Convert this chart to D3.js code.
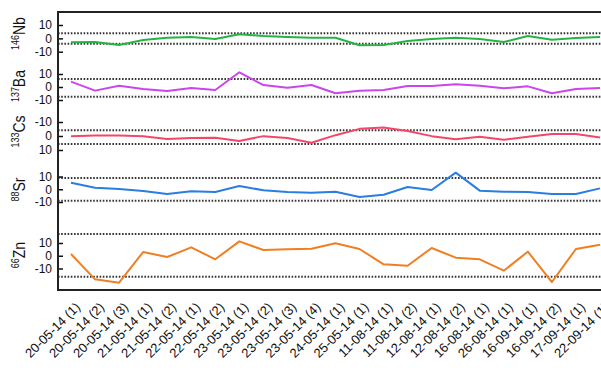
<!DOCTYPE html>
<html>
<head>
<meta charset="utf-8">
<script src="https://cdn.jsdelivr.net/npm/d3@7"></script>
<style>
  html, body { margin: 0; padding: 0; background: #fff; }
  svg { display: block; font-family: "Liberation Sans", Arial, sans-serif; }
</style>
</head>
<body>
<svg id="chart" width="601" height="372"></svg>
<script>
// Sample labels (date + replicate)
const categories = [
  "20-05-14 (1)", "20-05-14 (2)", "20-05-14 (3)", "21-05-14 (1)", "21-05-14 (2)",
  "22-05-14 (1)", "22-05-14 (2)", "23-05-14 (1)", "23-05-14 (2)", "23-05-14 (3)",
  "23-05-14 (4)", "24-05-14 (1)", "25-05-14 (1)", "11-08-14 (1)", "11-08-14 (2)",
  "12-08-14 (1)", "12-08-14 (2)", "16-08-14 (1)", "26-08-14 (1)", "16-09-14 (1)",
  "16-09-14 (2)", "17-09-14 (1)", "22-09-14 (1)"
];

// Isotope deviations per sample
const nb146 = [-3.0, -2.8, -5.0, -1.2, 0.5, 1.0, -0.5, 3.0, 1.8, 1.0, 0.5, 0.5,
               -5.2, -5.0, -2.0, -0.5, 0.5, -0.5, -2.7, 1.8, -1.0, 0.3, 1.0];
const ba137 = [4.1, -2.8, 1.0, -1.5, -3.1, -0.8, -2.3, 11.3, 1.5, -0.5, 1.5, -4.8,
               -2.8, -2.3, 0.8, 0.8, 2.1, 1.0, -1.0, 0.5, -4.8, -1.5, -0.8];
const cs133 = [0.1, -0.3, -0.4, 0.1, 2.2, 1.5, 1.3, 3.6, 0.1, 1.5, 4.8, -0.6,
               -5.1, -6.0, -3.6, 0.1, 2.4, 0.6, 2.7, 0.6, -1.5, -1.5, 1.0];
const sr88  = [5.1, 1.2, 0.2, -1.4, -3.7, -1.6, -2.2, 2.5, -0.8, -2.2, -2.7, -1.9,
               -6.1, -4.3, 1.8, -0.6, 13.0, -1.1, -1.9, -2.2, -3.7, -3.7, 0.7];
const zn66  = [1.4, -18.5, -21.1, 2.9, -1.0, 6.6, -2.8, 11.3, 4.5, 5.1, 5.5, 9.8,
               5.3, -6.7, -7.8, 6.1, -1.5, -2.8, -11.7, 3.2, -20.6, 5.3, 8.7];

// Upper / lower limits drawn as dotted reference lines
const nbLimits = [3.8, -4.0];
const baLimits = [6.2, -7.5];
const csLimits = [-4.1, 5.8];
const srLimits = [8.9, -9.1];
const znLimits = [17.1, -16.4];

// Y tick values shared by every panel
const tickValues = [10, 0, -10];

const svg = d3.select("#chart");

const plotLeft = 58, plotRight = 613, plotTop = 12, plotBottom = 290;

const x = d3.scalePoint().domain(categories).range([71, 600]);

// Stacked panels: each has its own vertical scale (the 133Cs one is inverted)
const panels = [
  { mass: "146", el: "Nb", values: nb146, limits: nbLimits, color: "#25b345", yTop: 25,  yBot: 51.7, top: 10,  labelY: 33.5 },
  { mass: "137", el: "Ba", values: ba137, limits: baLimits, color: "#cc45ec", yTop: 74,  yBot: 100,  top: 10,  labelY: 86 },
  { mass: "133", el: "Cs", values: cs133, limits: csLimits, color: "#f2476a", yTop: 122, yBot: 150,  top: -10, labelY: 131.5 },
  { mass: "88",  el: "Sr", values: sr88,  limits: srLimits, color: "#2a7de1", yTop: 176.5, yBot: 202, top: 10, labelY: 189.5 },
  { mass: "66",  el: "Zn", values: zn66,  limits: znLimits, color: "#f07f22", yTop: 243, yBot: 268.5, top: 10,  labelY: 255 }
];

panels.forEach(p => {
  const y = d3.scaleLinear().domain([p.top, -p.top]).range([p.yTop, p.yBot]);

  // dotted limit lines
  svg.append("g").selectAll("line").data(p.limits).join("line")
    .attr("x1", plotLeft).attr("x2", plotRight)
    .attr("y1", d => y(d)).attr("y2", d => y(d))
    .attr("stroke", "#333").attr("stroke-width", 2)
    .attr("stroke-dasharray", "1.6,1.6");

  // axis with inward ticks
  const axis = d3.axisLeft(y).tickValues(tickValues).tickSizeInner(-5).tickSizeOuter(0)
    .tickPadding(6).tickFormat(d => d < 0 ? "-" + Math.abs(d) : String(d));
  const g = svg.append("g").attr("transform", `translate(${plotLeft},0)`).call(axis);
  g.select(".domain").remove();
  g.selectAll(".tick line").attr("stroke", "#111").attr("stroke-width", 1.5);
  g.selectAll(".tick text").attr("font-size", 12).attr("fill", "#111")
    .attr("font-family", "Liberation Sans, Arial, sans-serif");

  // series line
  const line = d3.line().x((d, i) => x(categories[i])).y(d => y(d));
  svg.append("path").datum(p.values)
    .attr("d", line).attr("fill", "none")
    .attr("stroke", p.color).attr("stroke-width", 2).attr("stroke-linejoin", "round");

  // isotope label, rotated, with superscript mass number
  const t = svg.append("text")
    .attr("transform", `translate(25,${p.labelY}) rotate(-90) scale(0.85,1)`)
    .attr("text-anchor", "middle").attr("fill", "#111");
  t.append("tspan").attr("font-size", 10.5).attr("dy", -6).text(p.mass);
  t.append("tspan").attr("font-size", 16.5).attr("dy", 6).text(p.el);
});

// frame: top, bottom and left spine
svg.append("line").attr("x1", plotLeft).attr("x2", plotRight).attr("y1", plotTop).attr("y2", plotTop)
  .attr("stroke", "#222").attr("stroke-width", 2);
svg.append("line").attr("x1", plotLeft).attr("x2", plotRight).attr("y1", plotBottom).attr("y2", plotBottom)
  .attr("stroke", "#222").attr("stroke-width", 2);
svg.append("line").attr("x1", plotLeft).attr("x2", plotLeft).attr("y1", plotTop - 1).attr("y2", plotBottom + 1)
  .attr("stroke", "#222").attr("stroke-width", 2);

// rotated sample labels along the bottom
svg.append("g").selectAll("text").data(categories).join("text")
  .attr("transform", d => `translate(${x(d) + 10},${plotBottom + 18}) rotate(-45)`)
  .attr("text-anchor", "end")
  .attr("font-size", 13).attr("fill", "#111")
  .text(d => d);
</script>
</body>
</html>
